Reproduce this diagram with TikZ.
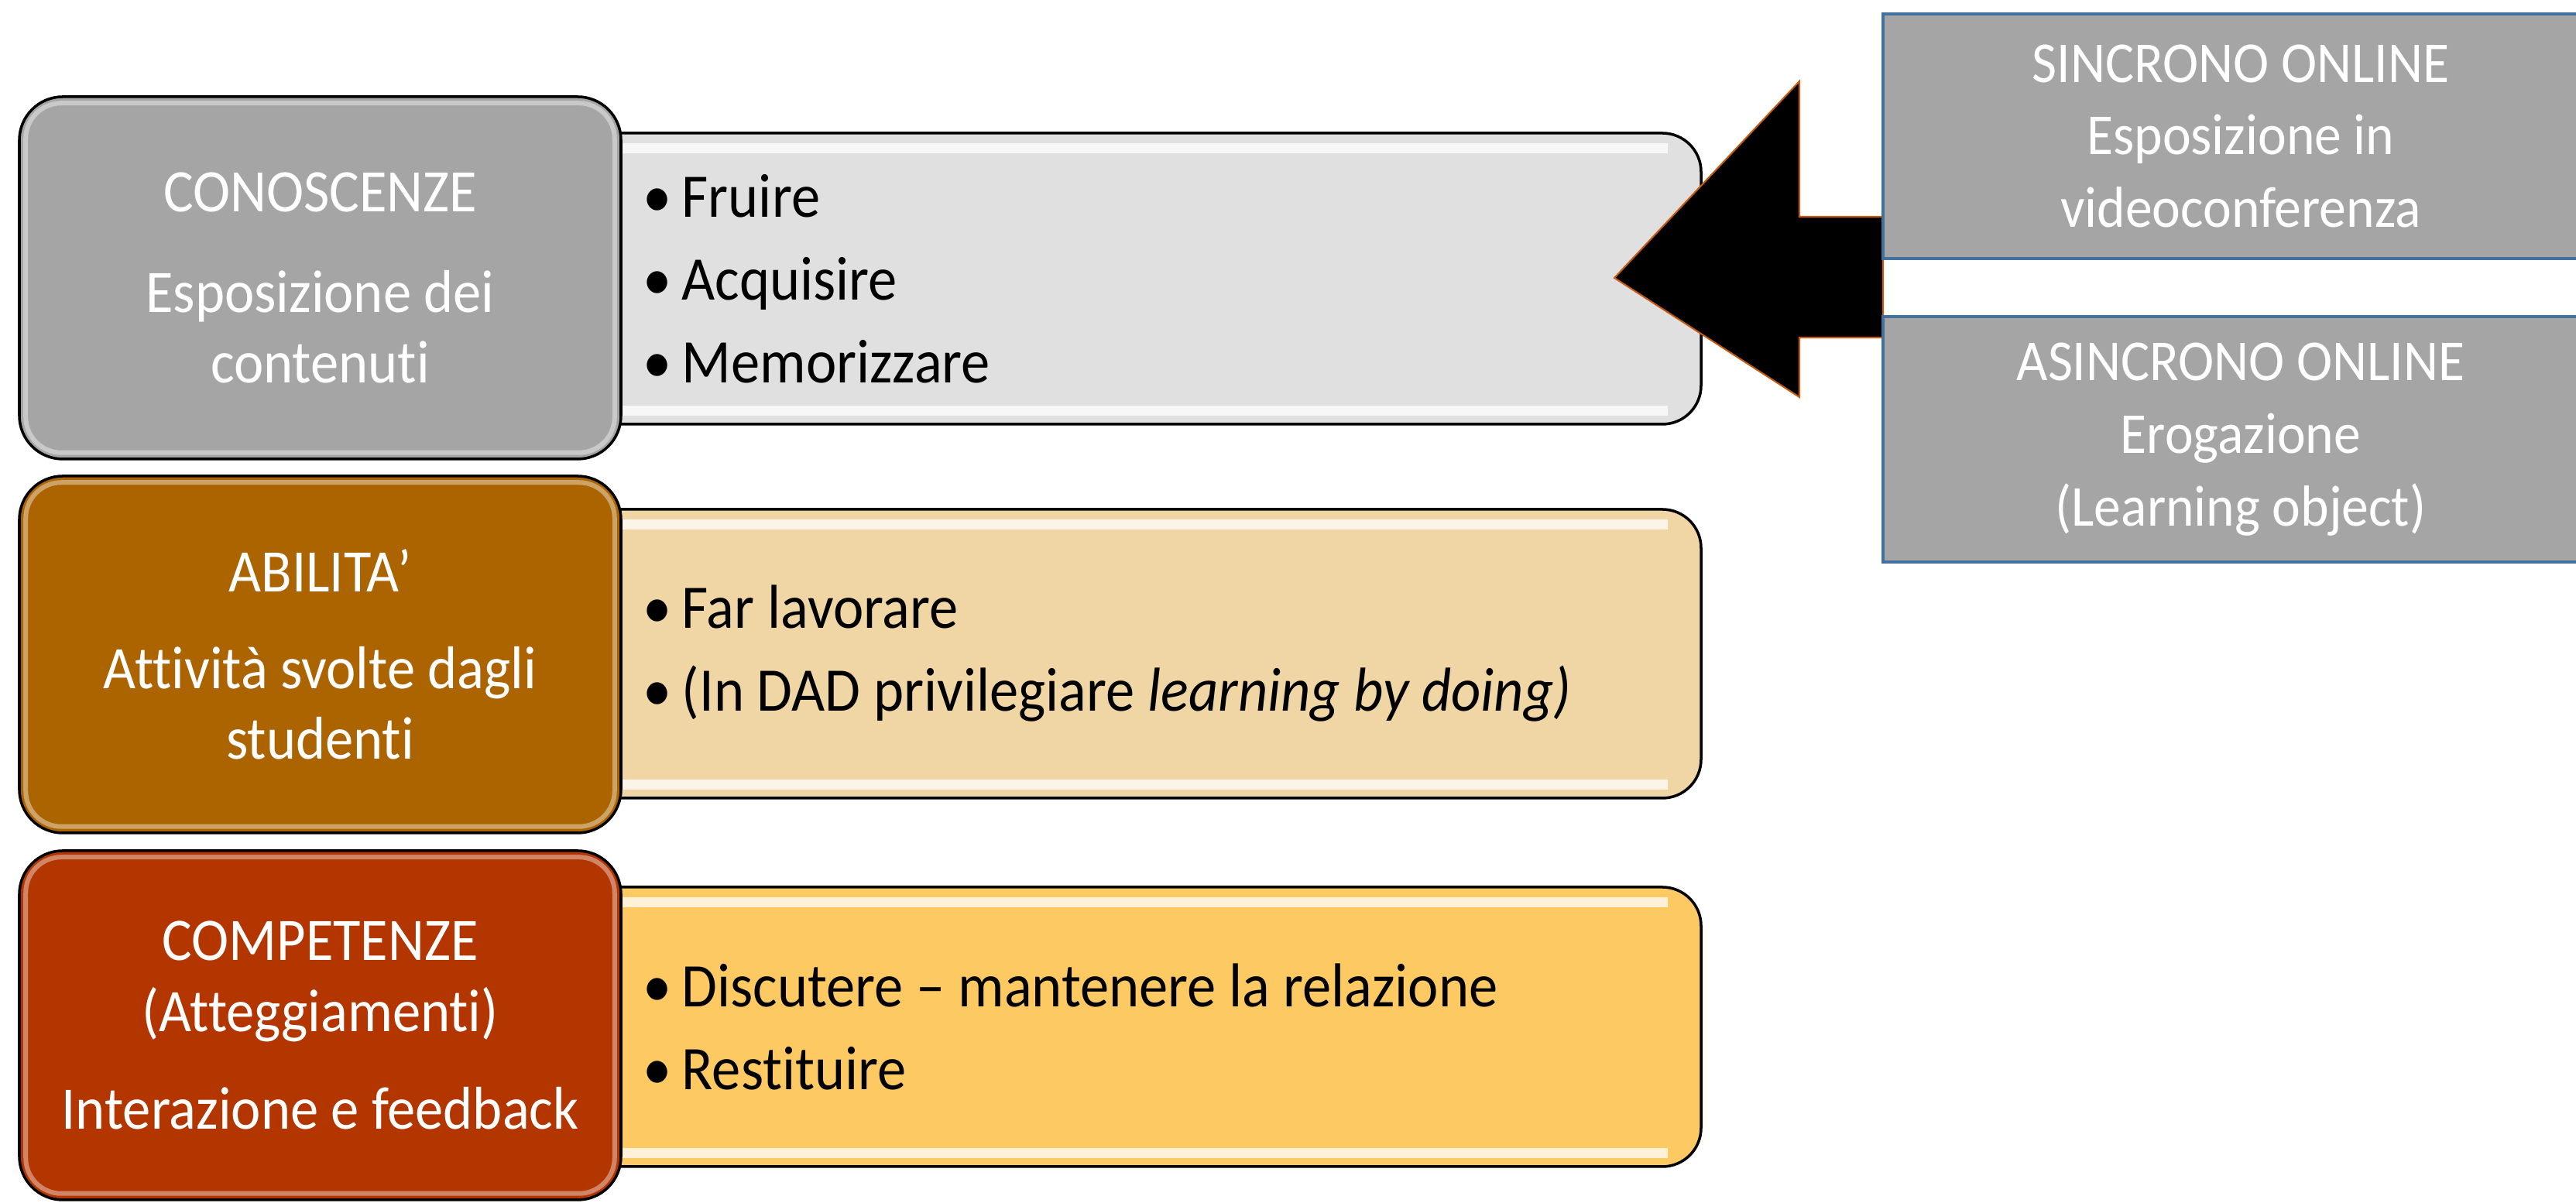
\documentclass[tikz,border=0pt]{standalone}
\usepackage{fontspec}
\setmainfont{Carlito}[FakeStretch=0.93, Ligatures=NoCommon]

\definecolor{greyA}{HTML}{A5A5A5}
\definecolor{greyB}{HTML}{E0E0E0}
\definecolor{brownA}{HTML}{AB6400}
\definecolor{brownB}{HTML}{F0D6A4}
\definecolor{rustA}{HTML}{B33500}
\definecolor{rustB}{HTML}{FDC963}
\definecolor{frameblue}{HTML}{41719C}
\definecolor{arrowrim}{HTML}{C55A11}

\tikzset{
    levelbox/.style={draw=black, line width=1pt, rounded corners=0.56cm, minimum width=7.77cm, inner sep=0pt},
    leveltext/.style={text=white, align=center, inner sep=0pt, font=\fontsize{22.2}{25.9}\selectfont},
    stripbox/.style={draw=black, line width=1pt, rounded corners=0.5cm, minimum width=14.47cm, inner sep=0pt},
    gloss/.style={white, opacity=0.75, line width=0.13cm},
    rim/.style={white, opacity=0.4, line width=0.06cm, rounded corners=0.46cm},
    bulletlist/.style={anchor=west, inner sep=0pt, align=left, font=\fontsize{22.8}{30.4}\selectfont},
    modebox/.style={draw=frameblue, line width=1pt, fill=greyA, minimum width=9.24cm, minimum height=3.16cm, inner sep=0pt, text=white, align=center, font=\fontsize{21.3}{26.7}\selectfont},
    bigarrow/.style={fill=black, draw=arrowrim, line width=0.6pt, line join=miter}
}
\newcommand{\dotitem}{\makebox[0.5cm][l]{\textbullet}}

\begin{document}
\begin{tikzpicture}
\path[use as bounding box, fill=white] (0,0) rectangle (33.27,15.54);
% rows: strip behind, level box in front
    \foreach \n/\ya/\ha/\yb/\hb/\ca/\cb in {1/11.95/4.68/11.94/3.76/greyA/greyB,2/7.085/4.61/7.095/3.73/brownA/brownB,3/2.295/4.51/2.275/3.61/rustA/rustB}{
        \node[stripbox, fill=\cb, minimum height=\hb cm] (R\n) at (14.735,\yb) {};
        \draw[gloss] ([yshift=-0.21cm]R\n.north west) -- ([xshift=-0.45cm,yshift=-0.21cm]R\n.north east);
        \draw[gloss] ([yshift=0.19cm]R\n.south west) -- ([xshift=-0.45cm,yshift=0.19cm]R\n.south east);
        \node[levelbox, fill=\ca, minimum height=\ha cm] (L\n) at (4.135,\ya) {};
        \draw[rim] ([shift={(0.1,0.1)}]L\n.south west) rectangle ([shift={(-0.1,-0.1)}]L\n.north east);
    }
% level texts
    \node[leveltext] (T1) at (L1) {CONOSCENZE\\[0.38cm]Esposizione dei\\contenuti};
    \node[leveltext] (T2) at (L2) {ABILITA’\\[0.34cm]Attività svolte dagli\\studenti};
    \node[leveltext] (T3) at (L3) {COMPETENZE\\(Atteggiamenti)\\[0.35cm]Interazione e feedback};
% bullet lists
    \node[bulletlist] (B1) at (8.30,11.94) {\dotitem Fruire\\\dotitem Acquisire\\\dotitem Memorizzare};
    \node[bulletlist] (B2) at (8.30,7.095) {\dotitem Far lavorare\\\dotitem (In DAD privilegiare \textit{learning by doing)}};
    \node[bulletlist] (B3) at (8.30,2.275) {\dotitem Discutere – mantenere la relazione\\\dotitem Restituire};
% arrow and online modes
    \draw[bigarrow] (24.32,12.74) -- (23.24,12.74) -- (23.24,14.49) -- (20.85,11.95)
        -- (23.24,10.41) -- (23.24,11.18) -- (24.32,11.18) -- cycle;
    \node[modebox] (S) at (28.94,13.78) {SINCRONO ONLINE\\Esposizione in\\videoconferenza};
    \node[modebox, minimum height=3.17cm] (A) at (28.94,9.865) {ASINCRONO ONLINE\\Erogazione\\(Learning object)};
\end{tikzpicture}
\end{document}
